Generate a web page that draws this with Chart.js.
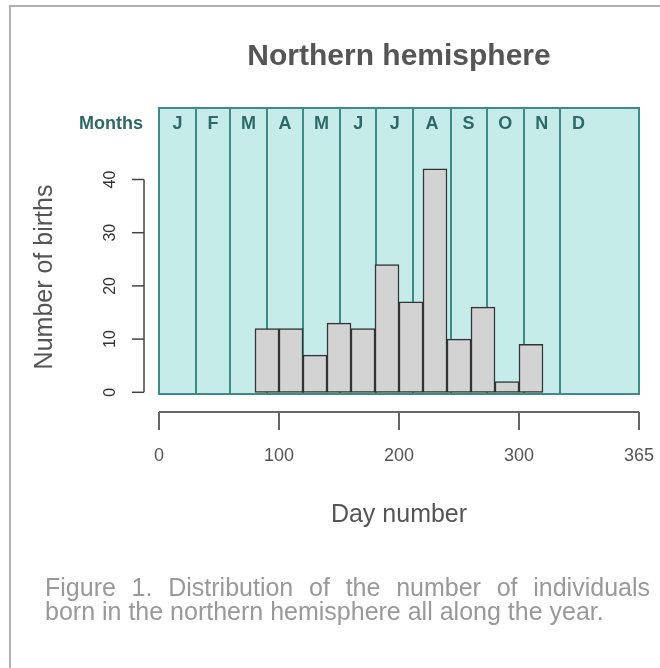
<!DOCTYPE html>
<html>
<head>
<meta charset="utf-8">
<title>Northern hemisphere</title>
<script src="https://cdn.jsdelivr.net/npm/chart.js@4/dist/chart.umd.min.js"></script>
<style>
  html, body { margin: 0; padding: 0; background: #ffffff; }
  #wrap { position: relative; width: 660px; height: 668px; overflow: hidden; }
  #frame { position: absolute; left: 9px; top: 5px; width: 700px; height: 700px;
           border-left: 2px solid #b0b0b0; border-top: 2px solid #b0b0b0; }
  canvas { position: absolute; left: 0; top: 0; }
  #caption { position: absolute; left: 45px; top: 575px; width: 605px;
             font-family: "Liberation Sans", Arial, sans-serif; font-size: 25px;
             line-height: 24px; color: #999999; }
  #caption .l1 { display: block; text-align: justify; text-align-last: justify; white-space: nowrap; }
  #caption .l2 { display: block; white-space: nowrap; }
</style>
</head>
<body>
<div id="wrap">
  <div id="frame"></div>
  <canvas id="chart" width="660" height="668"></canvas>
  <div id="caption"><span class="l1">Figure 1. Distribution of the number of individuals</span><span class="l2">born in the northern hemisphere all along the year.</span></div>
</div>
<script>
// Histogram bins (day of year where each 20-day bin starts) and birth counts
const binStarts = [80, 100, 120, 140, 160, 180, 200, 220, 240, 260, 280, 300];
const binWidth = 20;
const births = [12, 12, 7, 13, 12, 24, 17, 42, 10, 16, 2, 9];

// Month boundaries (cumulative day numbers) and their initials
const monthStarts = [0, 31, 59, 90, 120, 151, 181, 212, 243, 273, 304, 334, 365];
const monthLetters = ['J', 'F', 'M', 'A', 'M', 'J', 'J', 'A', 'S', 'O', 'N', 'D'];

// Axis ticks
const xTicks = [0, 100, 200, 300, 400];
const xTickLabels = ['0', '100', '200', '300', '365'];
const yTicks = [0, 10, 20, 30, 40];

const FONT = '"Liberation Sans", Arial, Helvetica, sans-serif';
const TEAL_FILL = '#c6ecea';
const TEAL_LINE = '#3f8a86';
const TEAL_TEXT = '#2d6a66';

const monthPanel = {
  id: 'monthPanel',
  beforeDatasetsDraw(chart) {
    const { ctx, chartArea: a, scales: { x } } = chart;
    ctx.save();
    ctx.fillStyle = TEAL_FILL;
    ctx.fillRect(a.left, a.top, a.right - a.left, a.bottom - a.top);
    ctx.strokeStyle = TEAL_LINE;
    ctx.lineWidth = 2;
    for (let i = 1; i < monthStarts.length - 1; i++) {
      const px = Math.round(x.getPixelForValue(monthStarts[i]));
      ctx.beginPath();
      ctx.moveTo(px, a.top);
      ctx.lineTo(px, a.bottom);
      ctx.stroke();
    }
    ctx.strokeRect(a.left, a.top, a.right - a.left, a.bottom - a.top);

    ctx.fillStyle = TEAL_TEXT;
    ctx.font = 'bold 18px ' + FONT;
    ctx.textBaseline = 'middle';
    ctx.textAlign = 'center';
    monthLetters.forEach((m, i) => {
      const mid = (monthStarts[i] + monthStarts[i + 1]) / 2;
      ctx.fillText(m, x.getPixelForValue(mid), a.top + 16);
    });
    ctx.textAlign = 'right';
    ctx.fillText('Months', a.left - 16, a.top + 16);
    ctx.restore();
  }
};

const axesAndTitles = {
  id: 'axesAndTitles',
  afterDraw(chart) {
    const { ctx, chartArea: a, scales: { x, y } } = chart;
    ctx.save();

    // Title
    ctx.fillStyle = '#555555';
    ctx.font = 'bold 30px ' + FONT;
    ctx.textAlign = 'center';
    ctx.textBaseline = 'middle';
    ctx.fillText('Northern hemisphere', (a.left + a.right) / 2, 57);

    // Y axis, offset to the left of the panel
    const yAxisX = a.left - 15;
    ctx.strokeStyle = '#444444';
    ctx.lineWidth = 1.5;
    ctx.beginPath();
    ctx.moveTo(yAxisX, y.getPixelForValue(yTicks[0]));
    ctx.lineTo(yAxisX, y.getPixelForValue(yTicks[yTicks.length - 1]));
    ctx.stroke();
    ctx.fillStyle = '#333333';
    ctx.font = '16px ' + FONT;
    yTicks.forEach(v => {
      const py = y.getPixelForValue(v);
      ctx.beginPath();
      ctx.moveTo(yAxisX - 12, py);
      ctx.lineTo(yAxisX, py);
      ctx.stroke();
      ctx.save();
      ctx.translate(yAxisX - 33, py);
      ctx.rotate(-Math.PI / 2);
      ctx.textAlign = 'center';
      ctx.textBaseline = 'middle';
      ctx.fillText(String(v), 0, 0);
      ctx.restore();
    });

    // X axis, offset below the panel
    const xAxisY = a.bottom + 18;
    ctx.strokeStyle = '#666666';
    ctx.lineWidth = 2;
    ctx.beginPath();
    ctx.moveTo(x.getPixelForValue(xTicks[0]), xAxisY);
    ctx.lineTo(x.getPixelForValue(xTicks[xTicks.length - 1]), xAxisY);
    ctx.stroke();
    ctx.fillStyle = '#555555';
    ctx.font = '18px ' + FONT;
    ctx.textAlign = 'center';
    ctx.textBaseline = 'middle';
    xTicks.forEach((v, i) => {
      const px = x.getPixelForValue(v);
      ctx.beginPath();
      ctx.moveTo(px, xAxisY);
      ctx.lineTo(px, xAxisY + 18);
      ctx.stroke();
      ctx.fillText(xTickLabels[i], px, xAxisY + 44);
    });

    // Axis titles
    ctx.fillStyle = '#555555';
    ctx.font = '25px ' + FONT;
    ctx.fillText('Day number', (a.left + a.right) / 2, 515);
    ctx.save();
    ctx.translate(45, 277);
    ctx.rotate(-Math.PI / 2);
    ctx.fillText('Number of births', 0, 0);
    ctx.restore();

    ctx.restore();
  }
};

new Chart(document.getElementById('chart'), {
  type: 'bar',
  data: {
    datasets: [{
      data: binStarts.map((s, i) => ({ x: s + binWidth / 2, y: births[i] })),
      backgroundColor: '#d3d3d3',
      borderColor: '#333333',
      borderWidth: 1.5,
      borderSkipped: false,
      barPercentage: 1,
      categoryPercentage: 1
    }]
  },
  options: {
    responsive: false,
    animation: false,
    events: [],
    layout: { padding: { left: 159, right: 21, top: 108, bottom: 274 } },
    scales: {
      x: { type: 'linear', min: 0, max: 400, offset: false, display: false },
      y: { min: -0.32, max: 53.44, display: false }
    },
    plugins: {
      legend: { display: false },
      tooltip: { enabled: false },
      title: { display: false }
    }
  },
  plugins: [monthPanel, axesAndTitles]
});
</script>
</body>
</html>
